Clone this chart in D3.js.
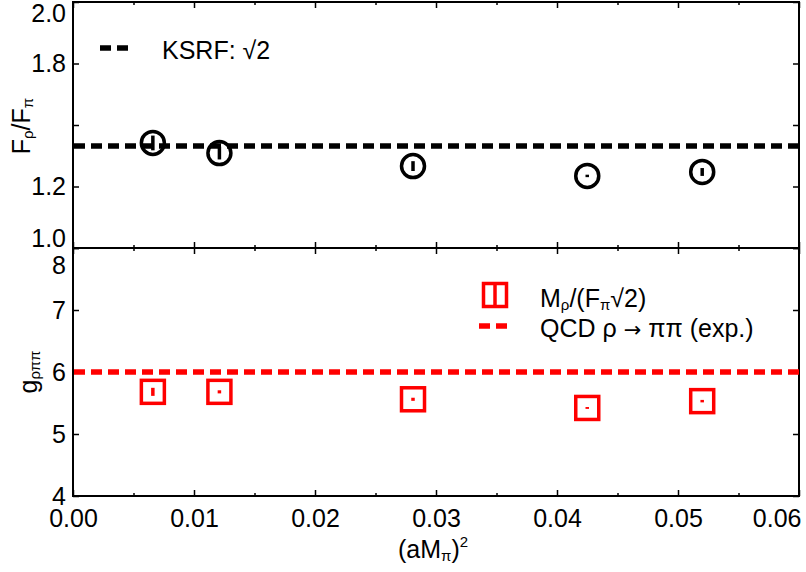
<!DOCTYPE html>
<html>
<head>
<meta charset="utf-8">
<script src="https://cdn.jsdelivr.net/npm/d3@7"></script>
<style>
  body { margin: 0; background: #fff; }
  text { font-family: "Liberation Sans", Arial, Helvetica, sans-serif; }
</style>
</head>
<body>
<svg id="chart" width="806" height="572"></svg>
<script>
// (aM_pi)^2 for the five ensembles
const xVals = [0.0066, 0.0121, 0.0281, 0.0425, 0.0520];
// top panel: F_rho / F_pi
const ratioVals = [1.427, 1.386, 1.333, 1.293, 1.309];
const ratioErr = [0.03, 0.026, 0.02, 0.005, 0.016];
// bottom panel: g_rho pi pi = M_rho / (F_pi sqrt 2)
const gVals = [5.68, 5.68, 5.56, 5.42, 5.53];
const gErr = [0.065, 0.025, 0.025, 0.015, 0.02];
const ksrfLine = Math.SQRT2;
const expLine = 6.0;

const xTicks = [0, 0.01, 0.02, 0.03, 0.04, 0.05, 0.06];
const xMinor = [0.005, 0.015, 0.025, 0.035, 0.045, 0.055];
const topTicks = [1.0, 1.25, 1.5, 1.75, 2.0];
const topTickLabels = ["1.0", "1.2", "", "1.8", "2.0"];
const botTicks = [4, 5, 6, 7, 8];
const botTickLabels = ["4", "5", "6", "7", "8"];

const svg = d3.select("#chart");
const left = 73, right = 799;
const topPanel = { y0: 2, y1: 248 };
const botPanel = { y0: 248, y1: 496 };
const FS = 25, SUB = 15;

const x = d3.scaleLinear().domain([0, 0.06]).range([left, right]);
const yTop = d3.scaleLinear().domain([1.0, 2.0]).range([topPanel.y1, topPanel.y0]);
const yBot = d3.scaleLinear().domain([4, 8]).range([botPanel.y1, botPanel.y0]);

function frame(panel, y, yTicks, yLabels, showX, labelShift) {
  const g = svg.append("g");
  const h = panel.y1 - panel.y0;

  const ax = g.append("g").attr("transform", `translate(${left},0)`)
    .call(d3.axisLeft(y).tickValues(yTicks).tickSize(-6).tickPadding(7)
      .tickFormat((d, i) => yLabels[i]));
  ax.selectAll("text").attr("font-size", FS).attr("fill", "#000")
    .attr("dy", (d, i) => (0.32 * FS + (labelShift[i] || 0)) + "px");
  g.append("g").attr("transform", `translate(${right},0)`)
    .call(d3.axisRight(y).tickValues(yTicks).tickSize(-6).tickFormat(""));

  const bx = g.append("g").attr("transform", `translate(0,${panel.y1})`)
    .call(d3.axisBottom(x).tickValues(xTicks).tickSize(-6).tickPadding(13)
      .tickFormat(showX ? d3.format(".2f") : ""));
  bx.selectAll("text").attr("font-size", FS).attr("fill", "#000")
    .filter(d => d === 0.06).attr("text-anchor", "end").attr("dx", 2);
  g.append("g").attr("transform", `translate(0,${panel.y1})`)
    .call(d3.axisBottom(x).tickValues(xMinor).tickSize(-3).tickFormat(""));
  g.append("g").attr("transform", `translate(0,${panel.y0})`)
    .call(d3.axisTop(x).tickValues(xTicks).tickSize(-6).tickFormat(""));
  g.append("g").attr("transform", `translate(0,${panel.y0})`)
    .call(d3.axisTop(x).tickValues(xMinor).tickSize(-3).tickFormat(""));

  g.selectAll(".domain").remove();
  g.selectAll(".tick line").attr("stroke", "#000").attr("stroke-width", 1.5);

  g.append("rect").attr("x", left).attr("y", panel.y0)
    .attr("width", right - left).attr("height", h)
    .attr("fill", "none").attr("stroke", "#000").attr("stroke-width", 2);
}

frame(topPanel, yTop, topTicks, topTickLabels, false, [-10, 0, 0, 0, 11]);
frame(botPanel, yBot, botTicks, botTickLabels, true, [0, 0, 0, 0, 17]);

// reference lines
svg.append("line").attr("x1", left + 1).attr("x2", right)
  .attr("y1", yTop(ksrfLine)).attr("y2", yTop(ksrfLine))
  .attr("stroke", "#000").attr("stroke-width", 5.5).attr("stroke-dasharray", "11,6");
svg.append("line").attr("x1", left + 1).attr("x2", right)
  .attr("y1", yBot(expLine)).attr("y2", yBot(expLine))
  .attr("stroke", "#ff0000").attr("stroke-width", 5.5).attr("stroke-dasharray", "11,6");

// top panel points
const topPts = svg.append("g");
xVals.forEach((xv, i) => {
  topPts.append("line").attr("x1", x(xv)).attr("x2", x(xv))
    .attr("y1", yTop(ratioVals[i] - ratioErr[i])).attr("y2", yTop(ratioVals[i] + ratioErr[i]))
    .attr("stroke", "#000").attr("stroke-width", 3.5);
  topPts.append("circle").attr("cx", x(xv)).attr("cy", yTop(ratioVals[i])).attr("r", 11.5)
    .attr("fill", "none").attr("stroke", "#000").attr("stroke-width", 3.5);
});

// bottom panel points
const botPts = svg.append("g");
const sq = 23;
xVals.forEach((xv, i) => {
  botPts.append("line").attr("x1", x(xv)).attr("x2", x(xv))
    .attr("y1", yBot(gVals[i] - gErr[i])).attr("y2", yBot(gVals[i] + gErr[i]))
    .attr("stroke", "#ff0000").attr("stroke-width", 3.5);
  botPts.append("rect").attr("x", x(xv) - sq / 2).attr("y", yBot(gVals[i]) - sq / 2)
    .attr("width", sq).attr("height", sq)
    .attr("fill", "none").attr("stroke", "#ff0000").attr("stroke-width", 3.5);
});

// legends
svg.append("line").attr("x1", 100).attr("x2", 128).attr("y1", 48).attr("y2", 48)
  .attr("stroke", "#000").attr("stroke-width", 5.5).attr("stroke-dasharray", "11,6");
svg.append("text").attr("x", 162).attr("y", 59).attr("font-size", FS).text("KSRF: √2");

svg.append("rect").attr("x", 495 - sq / 2).attr("y", 295 - sq / 2).attr("width", sq).attr("height", sq)
  .attr("fill", "none").attr("stroke", "#ff0000").attr("stroke-width", 3.5);
svg.append("line").attr("x1", 495).attr("x2", 495).attr("y1", 295 - sq / 2).attr("y2", 295 + sq / 2)
  .attr("stroke", "#ff0000").attr("stroke-width", 3.5);
const l1 = svg.append("text").attr("x", 540).attr("y", 307).attr("font-size", FS);
l1.append("tspan").text("M");
l1.append("tspan").attr("font-size", SUB).attr("dy", 3).text("ρ");
l1.append("tspan").attr("dy", -3).text("/(F");
l1.append("tspan").attr("font-size", SUB).attr("dy", 3).text("π");
l1.append("tspan").attr("dy", -3).text("√2)");

svg.append("line").attr("x1", 479).attr("x2", 507).attr("y1", 326).attr("y2", 326)
  .attr("stroke", "#ff0000").attr("stroke-width", 5.5).attr("stroke-dasharray", "11,6");
const l2 = svg.append("text").attr("x", 540).attr("y", 337).attr("font-size", FS);
l2.append("tspan").text("QCD ρ ");
l2.append("tspan").attr("font-family", "DejaVu Sans").attr("font-size", 21).text("→");
l2.append("tspan").text(" ππ (exp.)");

// axis titles
const t1 = svg.append("text").attr("transform", "translate(30,126) rotate(-90)")
  .attr("text-anchor", "middle").attr("font-size", FS);
t1.append("tspan").text("F");
t1.append("tspan").attr("font-size", SUB).attr("dy", 3).text("ρ");
t1.append("tspan").attr("dy", -3).text("/F");
t1.append("tspan").attr("font-size", SUB).attr("dy", 3).text("π");

const t2 = svg.append("text").attr("transform", "translate(37,372) rotate(-90)")
  .attr("text-anchor", "middle").attr("font-size", FS);
t2.append("tspan").text("g");
t2.append("tspan").attr("font-size", SUB).attr("dy", 3).text("ρππ");

const t3 = svg.append("text").attr("x", 433).attr("y", 558)
  .attr("text-anchor", "middle").attr("font-size", FS);
t3.append("tspan").text("(aM");
t3.append("tspan").attr("font-size", SUB).attr("dy", 3).text("π");
t3.append("tspan").attr("dy", -3).text(")");
t3.append("tspan").attr("font-size", SUB).attr("dy", -11).text("2");
</script>
</body>
</html>
